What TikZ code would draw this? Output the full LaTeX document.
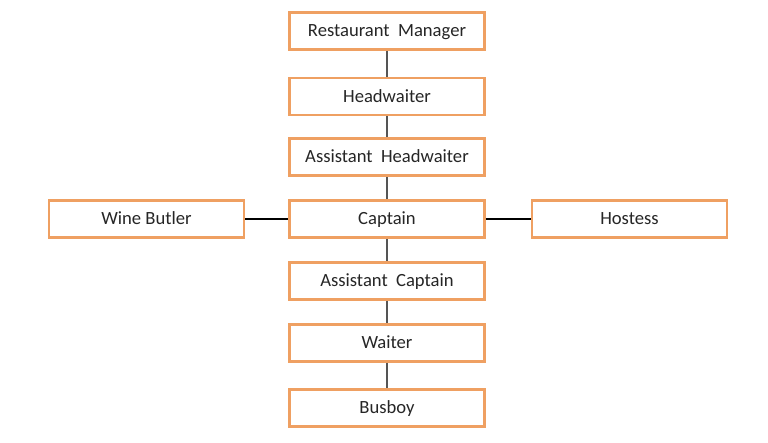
\documentclass[tikz,border=0pt]{standalone}
\usepackage{fontspec}
\setmainfont{Carlito}
\definecolor{boxorange}{RGB}{239,160,98}
\definecolor{linkgray}{RGB}{85,85,85}
\newcommand{\wsp}{\hspace{0.45em}}
\tikzset{
	rolebox/.style={draw=boxorange, line width=1.6pt, fill=white, minimum width=3.9cm, minimum height=0.74cm, inner sep=0pt, text height=1.6ex, text depth=0.2ex, font=\fontsize{10.6}{12}\selectfont, text=black!85},
	vlink/.style={draw=linkgray, line width=0.8pt},
	hlink/.style={draw=black, line width=0.6pt}
}
\begin{document}
\begin{tikzpicture}[x=0.02cm, y=-0.02cm]
		\useasboundingbox (0, 0) rectangle (768, 443);
		
		% Main chain
		\node[rolebox] (manager) at (387, 31) {Restaurant\wsp Manager};
		\node[rolebox] (head) at (387, 96.5) {Headwaiter};
		\node[rolebox] (asshead) at (387, 157) {Assistant\wsp Headwaiter};
		\node[rolebox] (captain) at (387, 219) {Captain};
		\node[rolebox] (asscapt) at (387, 281) {Assistant\wsp Captain};
		\node[rolebox] (waiter) at (387, 343) {Waiter};
		\node[rolebox] (busboy) at (387, 408) {Busboy};
		
		% Side roles
		\node[rolebox] (butler) at (146.5, 219) {Wine Butler};
		\node[rolebox] (hostess) at (629.5, 219) {Hostess};
		
		% Links
		\draw[vlink] (manager) -- (head);
		\draw[vlink] (head) -- (asshead);
		\draw[vlink] (asshead) -- (captain);
		\draw[vlink] (captain) -- (asscapt);
		\draw[vlink] (asscapt) -- (waiter);
		\draw[vlink] (waiter) -- (busboy);
		\draw[hlink] (butler) -- (captain);
		\draw[hlink] (captain) -- (hostess);
	\end{tikzpicture}
\end{document}
